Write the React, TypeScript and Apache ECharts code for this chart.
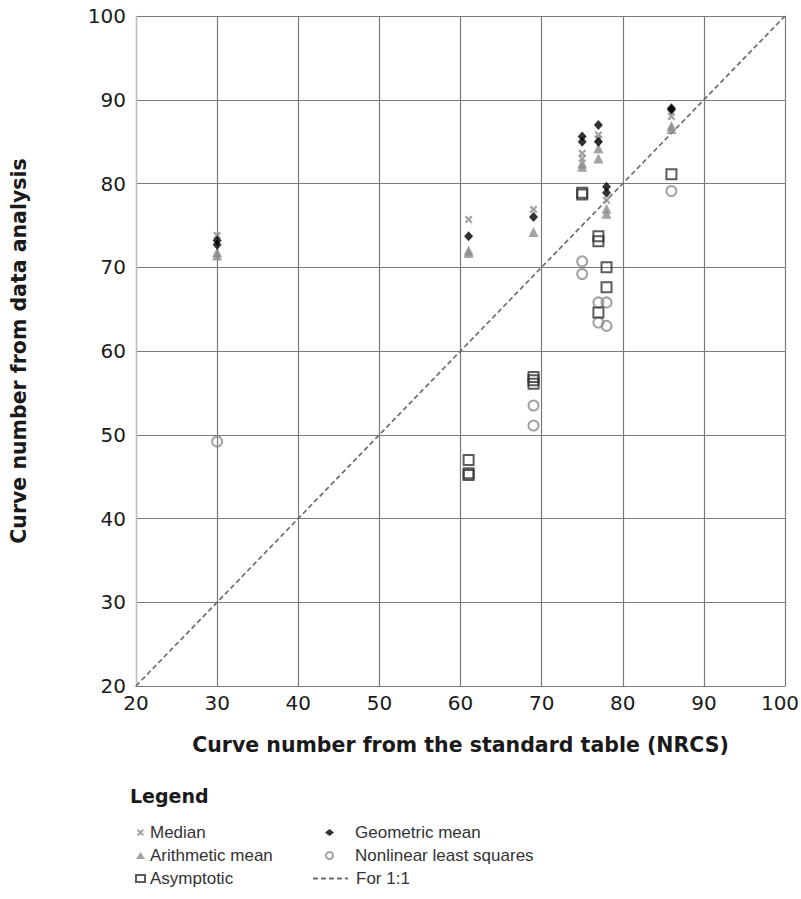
import React, { useEffect, useRef } from "react";
import * as echarts from "echarts";

const medianData: number[][] = [
  [30, 73.8], [61, 75.7], [69, 76.9], [75, 83.6], [75, 83.0], [77, 85.8], [77, 85.3], [78, 78.0], [86, 88.0],
];
const geometricData: number[][] = [
  [30, 73.2], [30, 72.7], [61, 73.7], [69, 76.0], [75, 85.6], [75, 85.0], [77, 87.0], [77, 85.0], [78, 79.6], [78, 78.9], [86, 89.0], [86, 88.8],
];
const arithmeticData: number[][] = [
  [30, 71.8], [30, 71.4], [61, 72.0], [61, 71.7], [69, 74.2], [75, 82.4], [75, 82.0], [77, 84.2], [77, 83.0], [78, 77.0], [78, 76.4], [86, 86.9], [86, 86.5],
];
const asymptoticData: number[][] = [
  [61, 47.0], [61, 45.4], [61, 45.2], [69, 56.9], [69, 56.5], [69, 56.1], [75, 78.9], [75, 78.7], [77, 73.7], [77, 73.1], [77, 64.6], [78, 70.0], [78, 67.6], [86, 81.1],
];
const nonlinearData: number[][] = [
  [30, 49.2], [69, 53.5], [69, 51.1], [75, 70.7], [75, 69.2], [77, 65.8], [77, 63.4], [78, 65.8], [78, 63.0], [86, 79.1],
];
const oneToOne: number[][] = [
  [20, 20], [100, 100],
];

const crossPath = "path://M2,0 L5,3 L8,0 L10,2 L7,5 L10,8 L8,10 L5,7 L2,10 L0,8 L3,5 L0,2 Z";

export default function App() {
  const ref = useRef<HTMLDivElement>(null);
  useEffect(() => {
    if (!ref.current) return;
    const chart = echarts.init(ref.current, null, { renderer: "svg" });
    const labelFont = "DejaVu Sans";
    const titleFont = "DejaVu Sans";
    const legendText = { fontFamily: "Liberation Sans", fontSize: 17, color: "#333" };
    chart.setOption({
      animation: false,
      backgroundColor: "#ffffff",
      title: {
        text: "Legend",
        left: 125,
        top: 781,
        textStyle: { fontFamily: titleFont, fontWeight: "bold", fontSize: 19, color: "#1a1a1a" },
      },
      grid: { left: 136, right: 16, top: 16, bottom: 213, containLabel: false, outerBoundsMode: "none" },
      xAxis: {
        type: "value",
        min: 20,
        max: 100,
        interval: 10,
        name: "Curve number from the standard table (NRCS)",
        nameLocation: "middle",
        nameGap: 48,
        nameTextStyle: { fontFamily: titleFont, fontWeight: "bold", fontSize: 20.5, color: "#1a1a1a" },
        axisLine: { show: true, lineStyle: { color: "#7a7a7a", width: 1.2 } },
        axisTick: { show: false },
        axisLabel: {
          fontFamily: labelFont,
          fontSize: 20,
          color: "#1a1a1a",
          margin: 7,
          formatter: (v: number) => (v === 100 ? "{m|" + v + "}" : String(v)),
          rich: { m: { fontFamily: labelFont, fontSize: 20, color: "#1a1a1a", padding: [0, 10, 0, 0] } },
        },
        splitLine: { show: true, lineStyle: { color: "#7a7a7a", width: 1.2 } },
      },
      yAxis: {
        type: "value",
        min: 20,
        max: 100,
        interval: 10,
        name: "Curve number from data analysis",
        nameLocation: "middle",
        nameGap: 107,
        nameTextStyle: { fontFamily: titleFont, fontWeight: "bold", fontSize: 20.5, color: "#1a1a1a" },
        axisLine: { show: true, lineStyle: { color: "#bdbdbd", width: 1.2 } },
        axisTick: { show: false },
        axisLabel: { fontFamily: labelFont, fontSize: 20, color: "#1a1a1a", margin: 10 },
        splitLine: { show: true, lineStyle: { color: "#7a7a7a", width: 1.2 } },
      },
      legend: [
        {
          data: ["Median", "Arithmetic mean", "Asymptotic"],
          orient: "vertical",
          left: 130,
          top: 819,
          itemWidth: 9,
          itemHeight: 7,
          itemGap: 6,
          textStyle: legendText,
        },
        {
          data: ["Geometric mean", "Nonlinear least squares"],
          orient: "vertical",
          left: 320,
          top: 819,
          itemWidth: 9,
          itemHeight: 7,
          itemGap: 6,
          textStyle: { ...legendText, padding: [0, 0, 0, 16] },
        },
        {
          data: ["For 1:1"],
          orient: "vertical",
          left: 307,
          top: 865,
          itemWidth: 35,
          itemHeight: 7,
          textStyle: { ...legendText, padding: [0, 0, 0, 3] },
        },
      ],
      series: [
        {
          name: "For 1:1",
          type: "line",
          data: oneToOne,
          symbol: "none",
          symbolSize: 0,
          itemStyle: { color: "#6e6e6e", opacity: 0 },
          lineStyle: { color: "#6e6e6e", width: 1.7, type: [5, 3], opacity: 1 },
          z: 1,
        },
        {
          name: "Nonlinear least squares",
          type: "scatter",
          data: nonlinearData,
          symbol: "circle",
          symbolSize: 10,
          itemStyle: { color: "transparent", borderColor: "#8c8c8c", borderWidth: 2 },
          z: 2,
        },
        {
          name: "Asymptotic",
          type: "scatter",
          data: asymptoticData,
          symbol: "rect",
          symbolSize: 10,
          itemStyle: { color: "transparent", borderColor: "#333333", borderWidth: 2 },
          z: 3,
        },
        {
          name: "Arithmetic mean",
          type: "scatter",
          data: arithmeticData,
          symbol: "triangle",
          symbolSize: 10,
          itemStyle: { color: "#8c8c8c" },
          z: 4,
        },
        {
          name: "Median",
          type: "scatter",
          data: medianData,
          symbol: crossPath,
          symbolSize: 8,
          itemStyle: { color: "#8c8c8c" },
          z: 5,
        },
        {
          name: "Geometric mean",
          type: "scatter",
          data: geometricData,
          symbol: "diamond",
          symbolSize: [9, 10],
          itemStyle: { color: "#000000" },
          z: 6,
        },
      ],
    });
    return () => chart.dispose();
  }, []);
  return <div ref={ref} style={{ width: 801, height: 899, position: "absolute", left: 0, top: 0 }} />;
}
